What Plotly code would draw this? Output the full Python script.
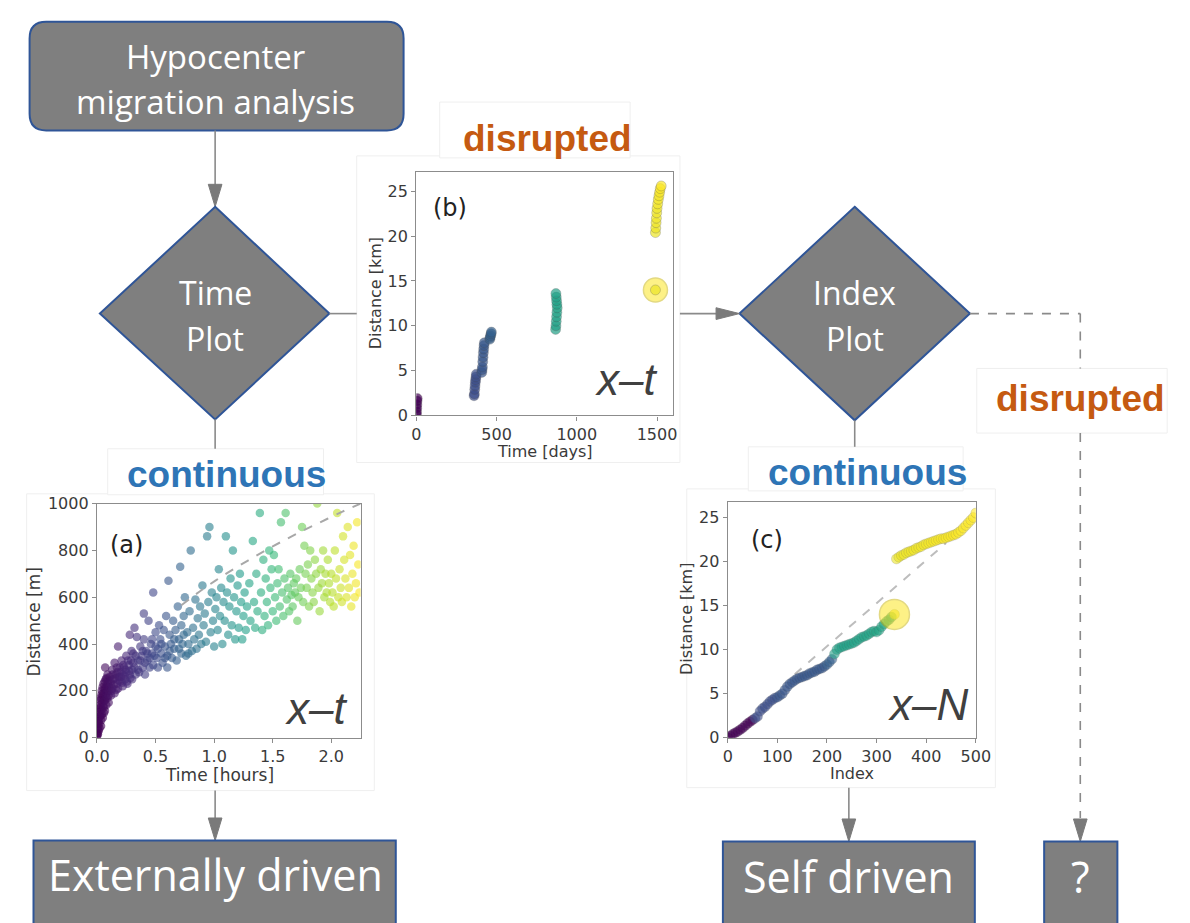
import plotly.graph_objects as go

# ---------------------------------------------------------------------------
# Data
# ---------------------------------------------------------------------------

# (a) injection-induced swarm: (time [hours], distance [m])
swarm_a = [
    (0.000, 0), (0.002, 10), (0.004, 35), (0.005, 20), (0.006, 60), (0.008, 15),
    (0.010, 45), (0.010, 80), (0.012, 100), (0.014, 70), (0.015, 30), (0.018, 125),
    (0.020, 110), (0.020, 60), (0.022, 40), (0.025, 140), (0.026, 90), (0.028, 160),
    (0.030, 95), (0.030, 170), (0.032, 130), (0.035, 50), (0.036, 75), (0.038, 185),
    (0.040, 120), (0.040, 200), (0.042, 100), (0.045, 150), (0.046, 165), (0.048, 215),
    (0.050, 85), (0.050, 180), (0.052, 135), (0.055, 230), (0.058, 190), (0.060, 130),
    (0.060, 105), (0.062, 160), (0.065, 210), (0.066, 240), (0.068, 115), (0.070, 160),
    (0.070, 300), (0.072, 205), (0.075, 250), (0.078, 175), (0.080, 190), (0.080, 140),
    (0.082, 255), (0.085, 220), (0.088, 200), (0.090, 170), (0.090, 270), (0.092, 230),
    (0.095, 240), (0.098, 180), (0.100, 200), (0.100, 150), (0.105, 215), (0.110, 260),
    (0.115, 240), (0.120, 180), (0.120, 230), (0.125, 200), (0.130, 290), (0.130, 210),
    (0.135, 270), (0.140, 250), (0.145, 225), (0.150, 190), (0.150, 320), (0.155, 255),
    (0.160, 270), (0.165, 205), (0.170, 230), (0.170, 300), (0.175, 280), (0.180, 210),
    (0.180, 390), (0.185, 245), (0.190, 260), (0.195, 300), (0.200, 280), (0.200, 240),
    (0.205, 260), (0.210, 330), (0.215, 235), (0.220, 270), (0.220, 220), (0.225, 310),
    (0.230, 300), (0.235, 265), (0.240, 250), (0.245, 290), (0.250, 350), (0.250, 280),
    (0.255, 240), (0.260, 230), (0.265, 330), (0.270, 310), (0.275, 285), (0.280, 270),
    (0.280, 440), (0.285, 255), (0.290, 330), (0.295, 370), (0.300, 290), (0.300, 250),
    (0.310, 360), (0.310, 320), (0.320, 470), (0.320, 300), (0.330, 270), (0.330, 350),
    (0.340, 430), (0.350, 330), (0.350, 290), (0.360, 280), (0.370, 390), (0.370, 330),
    (0.380, 350), (0.390, 300), (0.390, 370), (0.400, 420), (0.400, 530), (0.410, 270),
    (0.410, 320), (0.420, 370), (0.430, 330), (0.430, 360), (0.440, 500), (0.450, 300),
    (0.450, 340), (0.460, 400), (0.470, 360), (0.470, 420), (0.480, 620), (0.480, 310),
    (0.490, 350), (0.500, 450), (0.500, 390), (0.510, 340), (0.520, 300), (0.520, 380),
    (0.530, 480), (0.540, 420), (0.550, 360), (0.550, 400), (0.560, 320), (0.570, 460),
    (0.580, 390), (0.580, 340), (0.590, 520), (0.600, 350), (0.600, 300), (0.610, 670),
    (0.620, 440), (0.620, 370), (0.630, 400), (0.640, 340), (0.650, 500), (0.660, 380),
    (0.660, 420), (0.670, 460), (0.680, 330), (0.690, 560), (0.700, 420), (0.700, 380),
    (0.710, 730), (0.720, 360), (0.720, 480), (0.730, 400), (0.740, 520), (0.740, 440),
    (0.750, 600), (0.760, 350), (0.770, 450), (0.780, 400), (0.780, 360), (0.790, 540),
    (0.800, 800), (0.810, 370), (0.820, 470), (0.830, 420), (0.840, 590), (0.850, 380),
    (0.860, 510), (0.870, 440), (0.880, 560), (0.890, 400), (0.900, 650), (0.910, 480),
    (0.920, 530), (0.930, 410), (0.940, 860), (0.950, 580), (0.960, 900), (0.970, 450),
    (0.980, 620), (0.990, 500), (1.000, 390), (1.010, 550), (1.020, 600), (1.030, 460),
    (1.040, 720), (1.050, 520), (1.060, 640), (1.070, 400), (1.080, 580), (1.090, 500),
    (1.100, 860), (1.110, 620), (1.120, 440), (1.130, 560), (1.140, 680), (1.150, 480),
    (1.160, 800), (1.170, 600), (1.180, 420), (1.190, 540), (1.200, 650), (1.210, 470),
    (1.220, 700), (1.230, 580), (1.240, 420), (1.250, 520), (1.260, 620), (1.270, 460),
    (1.280, 560), (1.300, 660), (1.310, 500), (1.330, 840), (1.340, 580), (1.350, 470),
    (1.360, 700), (1.370, 540), (1.390, 960), (1.400, 620), (1.410, 460), (1.420, 760),
    (1.430, 520), (1.440, 680), (1.450, 580), (1.460, 480), (1.470, 800), (1.480, 640),
    (1.490, 720), (1.500, 540), (1.510, 780), (1.520, 600), (1.530, 500), (1.540, 660),
    (1.550, 720), (1.560, 560), (1.570, 920), (1.580, 620), (1.590, 520), (1.600, 680),
    (1.610, 960), (1.620, 590), (1.630, 640), (1.640, 540), (1.650, 700), (1.660, 610),
    (1.670, 560), (1.680, 660), (1.690, 620), (1.700, 680), (1.710, 500), (1.720, 600),
    (1.730, 720), (1.740, 640), (1.750, 900), (1.760, 580), (1.770, 820), (1.780, 700),
    (1.790, 640), (1.800, 740), (1.810, 560), (1.820, 800), (1.830, 680), (1.840, 620),
    (1.850, 580), (1.860, 760), (1.870, 700), (1.880, 1000), (1.890, 640), (1.900, 540),
    (1.910, 720), (1.920, 660), (1.930, 800), (1.940, 600), (1.950, 700), (1.960, 620),
    (1.970, 760), (1.980, 660), (1.990, 580), (2.000, 700), (2.010, 620), (2.020, 560),
    (2.030, 800), (2.040, 680), (2.050, 960), (2.060, 600), (2.070, 720), (2.080, 640),
    (2.090, 580), (2.100, 860), (2.110, 760), (2.120, 680), (2.130, 600), (2.140, 900),
    (2.150, 640), (2.160, 780), (2.170, 560), (2.180, 700), (2.190, 820), (2.200, 600),
    (2.210, 660), (2.220, 920), (2.230, 740), (2.240, 620),
]

# (a) diffusion envelope (dashed)
envelope_hours = [0.72, 0.9, 1.1, 1.3, 1.5, 1.7, 1.9, 2.1, 2.25]
envelope_dist_m = [566, 633, 700, 760, 817, 870, 919, 967, 1000]

# (b) long-term sequence in time: days, distance [km]
seq_days = [1, 2, 3, 4, 5, 6,
            360, 362, 364, 366, 368, 370, 372, 374,
            408, 410, 412, 414, 416, 418, 420, 422, 424,
            458, 460, 463, 466, 468,
            868, 870, 872, 874, 876, 878, 876, 874, 872, 870,
            1490, 1492, 1494, 1496, 1498, 1500, 1504, 1508, 1512, 1516, 1520, 1526,
            1490]
seq_dist_km = [0.1, 0.4, 0.8, 1.2, 1.6, 1.9,
               2.2, 2.4, 2.9, 3.3, 3.7, 4.0, 4.3, 4.6,
               4.8, 5.1, 5.4, 6.0, 6.5, 7.0, 7.4, 7.8, 8.1,
               8.5, 8.7, 8.9, 9.1, 9.3,
               9.6, 10.0, 10.5, 11.0, 11.5, 12.0, 12.4, 12.8, 13.2, 13.6,
               20.4, 20.9, 21.5, 22.0, 22.6, 23.1, 23.6, 24.1, 24.5, 24.9, 25.3, 25.6,
               14.0]

# highlighted event (large marker) in (b) and (c)
flag_days, flag_dist_km, flag_index = 1490, 14.0, 336

# (c) same sequence vs event index: (index, distance [km], day)
seq_index_track = [
    (0, 0.0, 1), (5, 0.2, 1), (10, 0.4, 2), (15, 0.55, 2), (20, 0.7, 3), (25, 0.9, 3),
    (30, 1.1, 4), (35, 1.35, 4), (40, 1.6, 5), (45, 1.8, 5), (50, 2.0, 6),
    (55, 2.2, 360), (60, 2.4, 362), (65, 3.0, 364), (70, 3.3, 366), (75, 3.5, 368),
    (80, 3.8, 370), (85, 4.1, 372), (90, 4.3, 373), (95, 4.5, 374),
    (100, 4.6, 408), (105, 4.8, 409), (110, 5.0, 410), (115, 5.4, 411), (120, 5.8, 412),
    (125, 6.1, 413), (130, 6.3, 414), (135, 6.5, 415), (140, 6.7, 416), (145, 6.8, 416),
    (150, 6.9, 417), (155, 7.0, 418), (160, 7.1, 419), (165, 7.3, 420), (170, 7.4, 420),
    (175, 7.5, 421), (180, 7.7, 422), (185, 7.8, 423), (190, 7.9, 424), (195, 8.1, 424),
    (200, 8.3, 458), (205, 8.6, 462), (210, 8.9, 466),
    (215, 9.5, 866), (220, 10.0, 868), (225, 10.2, 869), (230, 10.3, 870), (235, 10.4, 871),
    (240, 10.5, 872), (245, 10.6, 873), (250, 10.7, 874), (255, 10.8, 875), (260, 11.0, 876),
    (265, 11.2, 877), (270, 11.4, 878), (275, 11.5, 880), (280, 11.6, 882), (285, 11.8, 884),
    (290, 12.0, 886), (295, 12.1, 888), (300, 12.0, 890), (305, 12.2, 892), (310, 12.6, 894),
    (315, 12.9, 896), (320, 13.2, 898), (325, 13.4, 900), (330, 13.7, 902), (336, 14.0, 1490),
    (340, 20.3, 1490), (345, 20.5, 1491), (350, 20.7, 1492), (355, 20.8, 1493), (360, 21.0, 1494),
    (365, 21.1, 1495), (370, 21.2, 1496), (375, 21.3, 1497), (380, 21.5, 1498), (385, 21.6, 1499),
    (390, 21.7, 1500), (395, 21.9, 1502), (400, 22.0, 1504), (405, 22.1, 1506), (410, 22.2, 1508),
    (415, 22.3, 1510), (420, 22.4, 1512), (425, 22.5, 1513), (430, 22.6, 1514), (435, 22.6, 1515),
    (440, 22.7, 1516), (445, 22.8, 1517), (450, 22.9, 1518), (455, 23.0, 1519), (460, 23.1, 1520),
    (465, 23.3, 1521), (470, 23.5, 1522), (475, 23.8, 1523), (480, 24.1, 1524), (485, 24.4, 1525),
    (490, 24.7, 1526), (495, 25.0, 1527), (500, 25.5, 1528),
]

# (c) linear reference trend (dashed)
trend_index = [135, 440]
trend_dist_km = [7.2, 22.1]

# tick labels
ticks_hours = [0, 0.5, 1.0, 1.5, 2.0]
ticks_hours_text = ["0.0", "0.5", "1.0", "1.5", "2.0"]
ticks_m = [0, 200, 400, 600, 800, 1000]
ticks_days = [0, 500, 1000, 1500]
ticks_km = [0, 5, 10, 15, 20, 25]
ticks_index = [0, 100, 200, 300, 400, 500]

# ---------------------------------------------------------------------------
# Page geometry helpers (pixel -> paper)
# ---------------------------------------------------------------------------
W, H = 1190, 923


def X(px):
    return px / W


def Y(py):
    return 1 - py / H


BOX_FILL = "#7f7f7f"
BOX_EDGE = "#2f5597"
ARROW = "#8a8a8a"
ORANGE = "#c55a11"
BLUE = "#2e75b6"
TXT = "#3a3a3a"
FLOW_FONT = "Open Sans"
LABEL_FONT = "Liberation Sans"
MPL_FONT = "DejaVu Sans"

fig = go.Figure()

# ---------------------------------------------------------------------------
# Scatter panels
# ---------------------------------------------------------------------------
hours_a = [p[0] for p in swarm_a]
dist_a = [p[1] for p in swarm_a]
fig.add_trace(go.Scatter(
    x=hours_a, y=dist_a, mode="markers", xaxis="x", yaxis="y",
    marker=dict(size=8.5, color=hours_a, colorscale="Viridis", cmin=0, cmax=2.25,
                opacity=0.6, line=dict(width=0)),
    showlegend=False, hoverinfo="skip"))
fig.add_trace(go.Scatter(
    x=envelope_hours, y=envelope_dist_m, mode="lines", xaxis="x", yaxis="y",
    line=dict(color="#a8a8a8", width=2, dash="dash", shape="spline"),
    showlegend=False, hoverinfo="skip"))

fig.add_trace(go.Scatter(
    x=[flag_days], y=[flag_dist_km], mode="markers", xaxis="x2", yaxis="y2",
    marker=dict(size=24, color="#fde725", opacity=0.55,
                line=dict(width=1.5, color="#cdbb1e")),
    showlegend=False, hoverinfo="skip"))
fig.add_trace(go.Scatter(
    x=seq_days, y=seq_dist_km, mode="markers", xaxis="x2", yaxis="y2",
    marker=dict(size=10, color=seq_days, colorscale="Viridis", cmin=0, cmax=1530,
                opacity=0.7, line=dict(width=1, color="rgba(70,70,70,0.35)")),
    showlegend=False, hoverinfo="skip"))

fig.add_trace(go.Scatter(
    x=trend_index, y=trend_dist_km, mode="lines", xaxis="x3", yaxis="y3",
    line=dict(color="#bdbdbd", width=2, dash="dash"),
    showlegend=False, hoverinfo="skip"))
idx_c = [p[0] for p in seq_index_track]
dist_c = [p[1] for p in seq_index_track]
days_c = [p[2] for p in seq_index_track]
fig.add_trace(go.Scatter(
    x=idx_c, y=dist_c, mode="markers", xaxis="x3", yaxis="y3",
    marker=dict(size=10, color=days_c, colorscale="Viridis", cmin=0, cmax=1530,
                opacity=0.6, line=dict(width=1, color="rgba(70,70,70,0.25)")),
    showlegend=False, hoverinfo="skip"))
fig.add_trace(go.Scatter(
    x=[flag_index], y=[flag_dist_km], mode="markers", xaxis="x3", yaxis="y3",
    marker=dict(size=30, color="#fde725", opacity=0.55,
                line=dict(width=1.5, color="#cdbb1e")),
    showlegend=False, hoverinfo="skip"))


def axis(domain, rng, tickvals, ticktext=None, anchor=None):
    d = dict(domain=domain, range=rng, tickvals=tickvals, showline=True, mirror=True,
             linecolor="#8c8c8c", linewidth=1.3, ticks="outside", ticklen=4,
             tickwidth=1.2, tickcolor="#8c8c8c", showgrid=False, zeroline=False,
             fixedrange=True, anchor=anchor,
             tickfont=dict(family=MPL_FONT, size=16, color=TXT))
    if ticktext is not None:
        d["ticktext"] = ticktext
    return d


# ---------------------------------------------------------------------------
# Flowchart shapes
# ---------------------------------------------------------------------------
shapes = []


def faint_box(x0, y0, x1, y1):
    shapes.append(dict(type="rect", xref="paper", yref="paper", layer="below",
                       x0=X(x0), x1=X(x1), y0=Y(y1), y1=Y(y0),
                       line=dict(color="#efefef", width=1), fillcolor="white"))


def rounded_box(x0, y0, x1, y1, r):
    rx, ry = r / W, r / H
    a, b, c, d = X(x0), X(x1), Y(y0), Y(y1)
    path = (f"M {a+rx},{c} L {b-rx},{c} Q {b},{c} {b},{c-ry} "
            f"L {b},{d+ry} Q {b},{d} {b-rx},{d} L {a+rx},{d} "
            f"Q {a},{d} {a},{d+ry} L {a},{c-ry} Q {a},{c} {a+rx},{c} Z")
    shapes.append(dict(type="path", xref="paper", yref="paper", path=path,
                       fillcolor=BOX_FILL, line=dict(color=BOX_EDGE, width=2)))


def box(x0, y0, x1, y1):
    shapes.append(dict(type="rect", xref="paper", yref="paper",
                       x0=X(x0), x1=X(x1), y0=Y(y1), y1=Y(y0),
                       fillcolor=BOX_FILL, line=dict(color=BOX_EDGE, width=2)))


def diamond(cx, top, bottom, left, right, cy):
    path = (f"M {X(cx)},{Y(top)} L {X(right)},{Y(cy)} L {X(cx)},{Y(bottom)} "
            f"L {X(left)},{Y(cy)} Z")
    shapes.append(dict(type="path", xref="paper", yref="paper", path=path,
                       fillcolor=BOX_FILL, line=dict(color=BOX_EDGE, width=2)))


def seg(x0, y0, x1, y1, dash="solid"):
    shapes.append(dict(type="line", xref="paper", yref="paper",
                       x0=X(x0), y0=Y(y0), x1=X(x1), y1=Y(y1),
                       line=dict(color=ARROW, width=1.6, dash=dash)))


def head_down(x, tip, length=23, half=7):
    path = f"M {X(x-half)},{Y(tip-length)} L {X(x+half)},{Y(tip-length)} L {X(x)},{Y(tip)} Z"
    shapes.append(dict(type="path", xref="paper", yref="paper", path=path,
                       fillcolor="#7a7a7a", line=dict(color="#7a7a7a", width=1)))


def head_right(tip, y, length=24, half=6):
    path = f"M {X(tip-length)},{Y(y-half)} L {X(tip-length)},{Y(y+half)} L {X(tip)},{Y(y)} Z"
    shapes.append(dict(type="path", xref="paper", yref="paper", path=path,
                       fillcolor="#7a7a7a", line=dict(color="#7a7a7a", width=1)))


# faint frames around the inserted panels and the branch labels
faint_box(14, 495, 370, 798)
faint_box(352, 150, 683, 463)
faint_box(690, 490, 1006, 795)
faint_box(437, 95, 632, 152)
faint_box(97, 449, 318, 496)
faint_box(753, 447, 973, 492)
faint_box(987, 367, 1182, 433)

# start box and arrow into the time-plot decision
rounded_box(17, 13, 400, 124, 17)
seg(207, 124, 207, 180)
head_down(207, 202)

# decisions
diamond(207, 202, 419, 89, 324, 311)
diamond(862, 202, 420, 744, 980, 311)

# time plot -> index plot (disrupted)
seg(324, 311, 352, 311)
seg(683, 311, 722, 311)
head_right(744, 311)

# continuous branches
seg(207, 419, 207, 449)
seg(862, 420, 862, 447)

# index plot -> ? (disrupted, dashed)
seg(980, 311, 1093, 311, dash="dash")
seg(1093, 311, 1093, 367, dash="dash")
seg(1093, 433, 1093, 826, dash="dash")
head_down(1093, 850)

# outcomes
seg(207, 798, 207, 827)
head_down(207, 849)
seg(856, 795, 856, 827)
head_down(856, 850)
box(21, 849, 392, 935)
box(727, 850, 985, 935)
box(1056, 850, 1131, 935)

# ---------------------------------------------------------------------------
# Text
# ---------------------------------------------------------------------------
ann = []


def text(x, y, s, size, color, family, weight="normal", style="normal", angle=0,
         xanchor="center"):
    ann.append(dict(x=X(x), y=Y(y), xref="paper", yref="paper", text=s,
                    showarrow=False, xanchor=xanchor, yanchor="middle",
                    textangle=angle,
                    font=dict(size=size, color=color, family=family,
                              weight=weight, style=style)))


text(207, 48, "Hypocenter", 33, "white", FLOW_FONT)
text(207, 94, "migration analysis", 33, "white", FLOW_FONT)
text(207, 289, "Time", 32, "white", FLOW_FONT)
text(207, 336, "Plot", 32, "white", FLOW_FONT)
text(862, 289, "Index", 32, "white", FLOW_FONT)
text(862, 336, "Plot", 32, "white", FLOW_FONT)
text(207, 884, "Externally driven", 43, "white", FLOW_FONT)
text(856, 886, "Self driven", 43, "white", FLOW_FONT)
text(1093, 886, "?", 43, "white", FLOW_FONT)

text(547, 132, "disrupted", 37, ORANGE, LABEL_FONT, weight="bold")
text(1093, 398, "disrupted", 37, ORANGE, LABEL_FONT, weight="bold")
text(219, 475, "continuous", 37, BLUE, LABEL_FONT, weight="bold")
text(875, 473, "continuous", 37, BLUE, LABEL_FONT, weight="bold")

# panel letters and regime tags
text(116, 547, "(a)", 24, "#222222", MPL_FONT)
text(448, 203, "(b)", 24, "#222222", MPL_FONT)
text(772, 542, "(c)", 24, "#222222", MPL_FONT)
text(310, 714, "x–t", 44, "#404040", LABEL_FONT, style="italic")
text(628, 378, "x–t", 44, "#404040", LABEL_FONT, style="italic")
text(937, 710, "x–N", 44, "#404040", LABEL_FONT, style="italic")

# axis titles
text(22, 625, "Distance [m]", 17, TXT, MPL_FONT, angle=-90)
text(211, 782, "Time [hours]", 17, TXT, MPL_FONT)
text(371, 290, "Distance [km]", 16, TXT, MPL_FONT, angle=-90)
text(545, 452, "Time [days]", 16, TXT, MPL_FONT)
text(689, 623, "Distance [km]", 16, TXT, MPL_FONT, angle=-90)
text(859, 781, "Index", 16, TXT, MPL_FONT)

fig.update_layout(
    width=W, height=H, autosize=False,
    margin=dict(l=0, r=0, t=0, b=0, pad=0),
    paper_bgcolor="white", plot_bgcolor="rgba(0,0,0,0)",
    showlegend=False,
    xaxis=axis([X(86), X(356)], [0, 2.25], ticks_hours, ticks_hours_text, anchor="y"),
    yaxis=axis([Y(744), Y(505)], [0, 1000], ticks_m, anchor="x"),
    xaxis2=axis([X(413), X(676)], [0, 1600], ticks_days, anchor="y2"),
    yaxis2=axis([Y(415), Y(166)], [0, 27.2], ticks_km, anchor="x2"),
    xaxis3=axis([X(732), X(986)], [0, 500], ticks_index, anchor="y3"),
    yaxis3=axis([Y(744), Y(503)], [0, 26.8], ticks_km, anchor="x3"),
    shapes=shapes,
    annotations=ann,
)

fig.write_html("out.html")
